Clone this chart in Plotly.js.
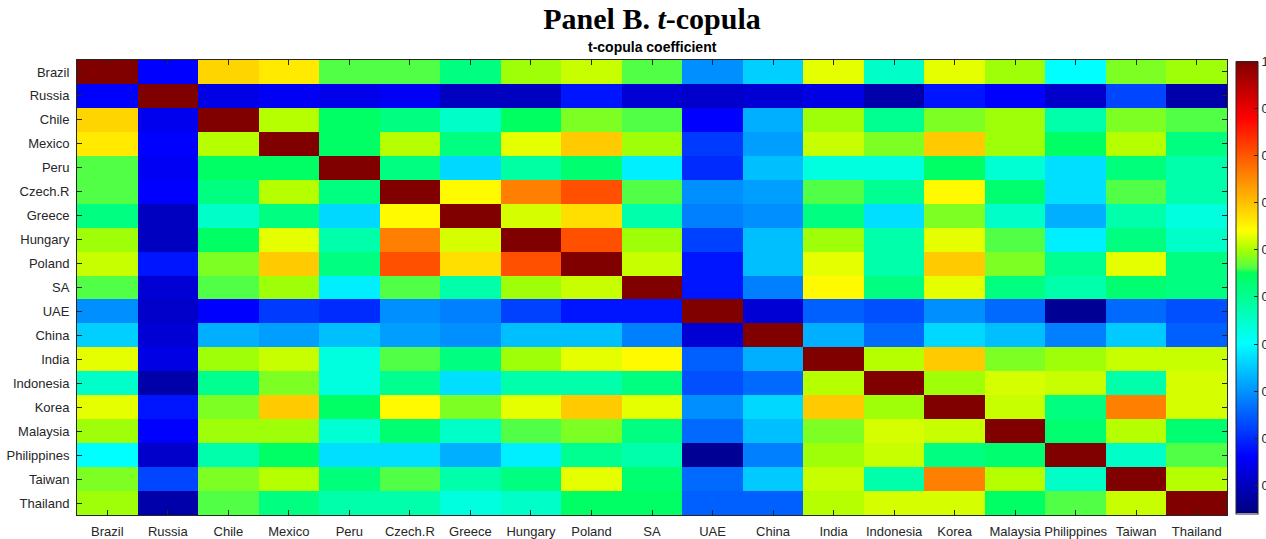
<!DOCTYPE html>
<html>
<head>
<meta charset="utf-8">
<script src="https://cdn.plot.ly/plotly-3.0.1.min.js"></script>
<style>html,body{margin:0;padding:0;background:#fff;}#chart{width:1266px;height:539px;}</style>
</head>
<body>
<div id="chart"></div>
<script>
var countries = ["Brazil","Russia","Chile","Mexico","Peru","Czech.R","Greece","Hungary","Poland","SA","UAE","China","India","Indonesia","Korea","Malaysia","Philippines","Taiwan","Thailand"];

var brazil      = [1.000,0.160,0.680,0.660,0.560,0.560,0.515,0.595,0.614,0.560,0.295,0.355,0.628,0.450,0.628,0.595,0.400,0.580,0.595];
var russia      = [0.160,1.000,0.136,0.150,0.140,0.150,0.100,0.100,0.180,0.120,0.110,0.120,0.135,0.080,0.180,0.160,0.110,0.225,0.080];
var chile       = [0.680,0.145,1.000,0.605,0.540,0.515,0.450,0.545,0.580,0.560,0.160,0.325,0.595,0.500,0.580,0.595,0.477,0.580,0.560];
var mexico      = [0.660,0.160,0.605,1.000,0.540,0.605,0.515,0.628,0.690,0.595,0.215,0.310,0.614,0.580,0.690,0.595,0.540,0.605,0.515];
var peru        = [0.560,0.150,0.540,0.540,1.000,0.515,0.363,0.485,0.530,0.385,0.200,0.340,0.430,0.430,0.540,0.440,0.370,0.520,0.477];
var czech       = [0.560,0.160,0.515,0.605,0.515,1.000,0.645,0.760,0.805,0.560,0.295,0.310,0.560,0.500,0.645,0.530,0.370,0.560,0.477];
var greece      = [0.515,0.100,0.450,0.515,0.363,0.645,1.000,0.620,0.670,0.477,0.280,0.295,0.515,0.370,0.580,0.450,0.325,0.477,0.430];
var hungary     = [0.595,0.100,0.540,0.628,0.477,0.760,0.620,1.000,0.805,0.595,0.220,0.340,0.595,0.477,0.628,0.560,0.385,0.515,0.450];
var poland      = [0.614,0.180,0.580,0.690,0.515,0.805,0.670,0.805,1.000,0.614,0.180,0.340,0.628,0.477,0.690,0.580,0.500,0.628,0.515];
var sa          = [0.560,0.120,0.560,0.595,0.385,0.560,0.477,0.595,0.614,1.000,0.180,0.280,0.645,0.515,0.628,0.515,0.477,0.530,0.515];
var uae         = [0.295,0.110,0.160,0.215,0.200,0.295,0.280,0.220,0.180,0.180,1.000,0.120,0.250,0.235,0.295,0.260,0.060,0.260,0.235];
var china       = [0.355,0.120,0.325,0.310,0.340,0.310,0.295,0.340,0.340,0.280,0.120,1.000,0.325,0.260,0.363,0.340,0.280,0.350,0.250];
var india       = [0.628,0.135,0.595,0.614,0.430,0.560,0.515,0.595,0.628,0.645,0.250,0.325,1.000,0.605,0.690,0.580,0.595,0.614,0.614];
var indonesia   = [0.450,0.080,0.500,0.580,0.430,0.500,0.370,0.477,0.477,0.515,0.235,0.260,0.605,1.000,0.595,0.620,0.614,0.477,0.620];
var korea       = [0.628,0.180,0.580,0.690,0.540,0.645,0.580,0.628,0.690,0.628,0.295,0.363,0.690,0.595,1.000,0.614,0.515,0.760,0.620];
var malaysia    = [0.595,0.160,0.595,0.595,0.440,0.530,0.450,0.560,0.580,0.515,0.260,0.340,0.580,0.620,0.614,1.000,0.530,0.605,0.530];
var philippines = [0.400,0.110,0.477,0.540,0.370,0.370,0.325,0.385,0.500,0.477,0.060,0.280,0.595,0.614,0.515,0.530,1.000,0.450,0.560];
var taiwan      = [0.580,0.225,0.580,0.605,0.520,0.560,0.477,0.515,0.628,0.530,0.260,0.350,0.614,0.477,0.760,0.605,0.450,1.000,0.605];
var thailand    = [0.595,0.080,0.560,0.515,0.477,0.477,0.430,0.450,0.540,0.540,0.250,0.250,0.605,0.620,0.620,0.540,0.560,0.614,1.000];

var zRows = [brazil,russia,chile,mexico,peru,czech,greece,hungary,poland,sa,uae,china,india,indonesia,korea,malaysia,philippines,taiwan,thailand];

var zMin = 0.04, zMax = 1.0;
var colorbarTicks = [0.1,0.2,0.3,0.4,0.5,0.6,0.7,0.8,0.9,1];
var colorbarTickText = ["0.1","0.2","0.3","0.4","0.5","0.6","0.7","0.8","0.9","1"];

// colour anchors (value -> colour) for the modified jet map
var anchorVals = [0.04,0.16,0.40,0.55,0.56,0.60,0.64,0.76,0.88,1.00];
var anchorCols = ["rgb(0,0,128)","rgb(0,0,255)","rgb(0,255,255)","rgb(0,255,90)","rgb(80,255,70)","rgb(170,255,0)","rgb(255,255,0)","rgb(255,128,0)","rgb(255,0,0)","rgb(128,0,0)"];
var colorscale = anchorVals.map(function(v,i){ return [(v - zMin)/(zMax - zMin), anchorCols[i]]; });

var trace = {
  type: "heatmap",
  z: zRows,
  x: countries,
  y: countries,
  zmin: zMin,
  zmax: zMax,
  colorscale: colorscale,
  xgap: 0, ygap: 0,
  hoverinfo: "x+y+z",
  colorbar: {
    x: 1.0078, xanchor: "left", xpad: 0,
    y: 0.5, yanchor: "middle", ypad: 0,
    len: 0.994, lenmode: "fraction",
    thickness: 22, thicknessmode: "pixels",
    outlinewidth: 1, outlinecolor: "#262626",
    ticks: "inside", ticklen: 4, tickcolor: "#262626",
    tickvals: colorbarTicks, ticktext: colorbarTickText,
    tickfont: {family: "Liberation Sans, Arial, sans-serif", size: 13, color: "#262626"}
  }
};

var axisFont = {family: "Liberation Sans, Arial, sans-serif", size: 13, color: "#262626"};

var layout = {
  width: 1266, height: 539,
  margin: {l: 77, r: 39, t: 60, b: 24, pad: 0, autoexpand: false},
  paper_bgcolor: "#ffffff", plot_bgcolor: "#ffffff",
  title: {
    text: "Panel B. <i>t</i>-copula",
    font: {family: "Liberation Serif, Times New Roman, serif", size: 30, color: "#000000", weight: "bold"},
    x: 0.5, xanchor: "center", xref: "paper",
    y: 1, yref: "container", yanchor: "top", pad: {t: 8}
  },
  annotations: [{
    text: "<b>t-copula coefficient</b>",
    xref: "paper", yref: "paper", x: 0.5, y: 1, yanchor: "bottom", xanchor: "center",
    yshift: 3, showarrow: false,
    font: {family: "Liberation Sans, Arial, sans-serif", size: 14, color: "#000000"}
  }],
  xaxis: {
    type: "category", tickfont: axisFont, ticks: "inside", ticklen: 5, tickcolor: "#262626",
    showline: true, linecolor: "#262626", linewidth: 1, mirror: "ticks",
    showgrid: false, zeroline: false, ticklabelstandoff: 4, automargin: false
  },
  yaxis: {
    type: "category", autorange: "reversed", tickfont: axisFont, ticks: "inside", ticklen: 5, tickcolor: "#262626",
    showline: true, linecolor: "#262626", linewidth: 1, mirror: "ticks",
    showgrid: false, zeroline: false, ticklabelstandoff: 4, automargin: false
  }
};

Plotly.newPlot("chart", [trace], layout, {displayModeBar: false, staticPlot: true});
</script>
</body>
</html>
